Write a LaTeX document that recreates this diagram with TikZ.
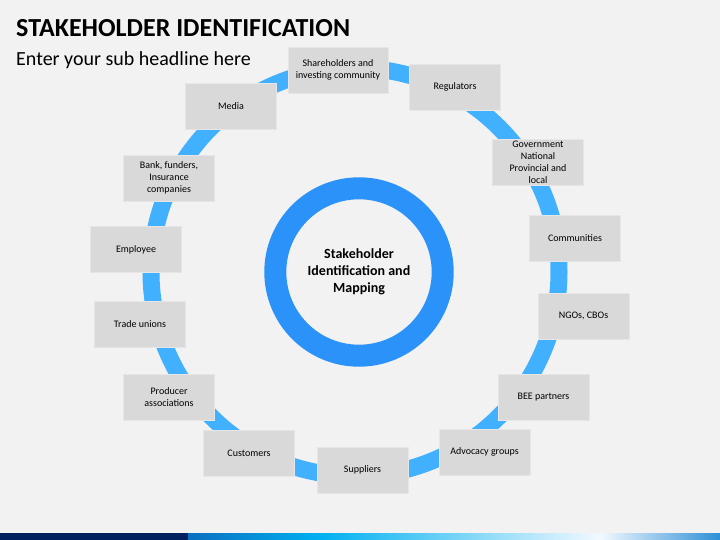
\documentclass[tikz,border=0pt]{standalone}
\usepackage{xcolor}
\usepackage{fontspec}
\setmainfont{Carlito}
\usepackage{tikz}

\definecolor{bg}{HTML}{F2F2F2}
\definecolor{boxgray}{HTML}{D9D9D9}
\definecolor{boxline}{HTML}{E6E6E6}
\definecolor{outerblue}{HTML}{40B0FF}
\definecolor{innerblue}{HTML}{2A92F8}
\definecolor{navy}{HTML}{002060}
\definecolor{barA}{HTML}{0A6FC0}
\definecolor{barB}{HTML}{00B0F0}
\definecolor{barC}{HTML}{F2F9FF}
\definecolor{barD}{HTML}{2E8FD6}

\begin{document}
\begin{tikzpicture}[x=1pt,y=-1pt]
\tikzstyle{box}=[fill=boxgray,draw=boxline,line width=0.6pt,minimum width=91pt,minimum height=46pt,inner sep=0pt,align=center,font=\fontsize{10}{12}\selectfont];
\tikzstyle{ring}=[line width=17pt,draw=outerblue];
\tikzstyle{hub}=[line width=22pt,draw=innerblue];

\fill[bg] (0,0) rectangle (720,540);
\useasboundingbox (0,0) rectangle (720,540);

\node[anchor=base west,inner sep=0pt,font=\fontsize{26}{30}\selectfont\bfseries] (title) at (16,36.7) {STAKEHOLDER IDENTIFICATION};
\node[anchor=base west,inner sep=0pt,font=\fontsize{20}{24}\selectfont] (sub) at (16,65.7) {Enter your sub headline here};

\draw[ring] (355,272) circle[radius=204pt];
\draw[hub] (359,272) circle[radius=83.7pt];
\node[align=center,font=\fontsize{14}{17}\selectfont\bfseries] (core) at (359,272) {Stakeholder\\Identification and\\Mapping};

\node[box,minimum width=100pt] (share) at (338,70) {Shareholders and\\investing community};
\node[box] (reg) at (455,87) {Regulators};
\node[box] (gov) at (538,162) {Government\\National\\Provincial and\\local};
\node[box] (comm) at (575,238) {Communities};
\node[box] (ngo) at (583.5,316) {NGOs, CBOs};
\node[box] (bee) at (543.5,397) {BEE partners};
\node[box] (adv) at (484.5,452) {Advocacy groups};
\node[box] (supp) at (362.5,470) {Suppliers};
\node[box] (cust) at (249,453) {Customers};
\node[box] (prod) at (169,397) {Producer\\associations};
\node[box] (trade) at (140,324) {Trade unions};
\node[box] (emp) at (136,249.5) {Employee};
\node[box] (bank) at (169,178) {Bank, funders,\\Insurance\\companies};
\node[box] (media) at (231,106.5) {Media};

\fill[navy] (0,533) rectangle (188,540);
\shade[left color=barA,right color=barB] (188,533) rectangle (320,540);
\shade[left color=barB,right color=barC] (320,533) rectangle (600,540);
\shade[left color=barC,right color=barD] (600,533) rectangle (720,540);
\end{tikzpicture}
\end{document}
